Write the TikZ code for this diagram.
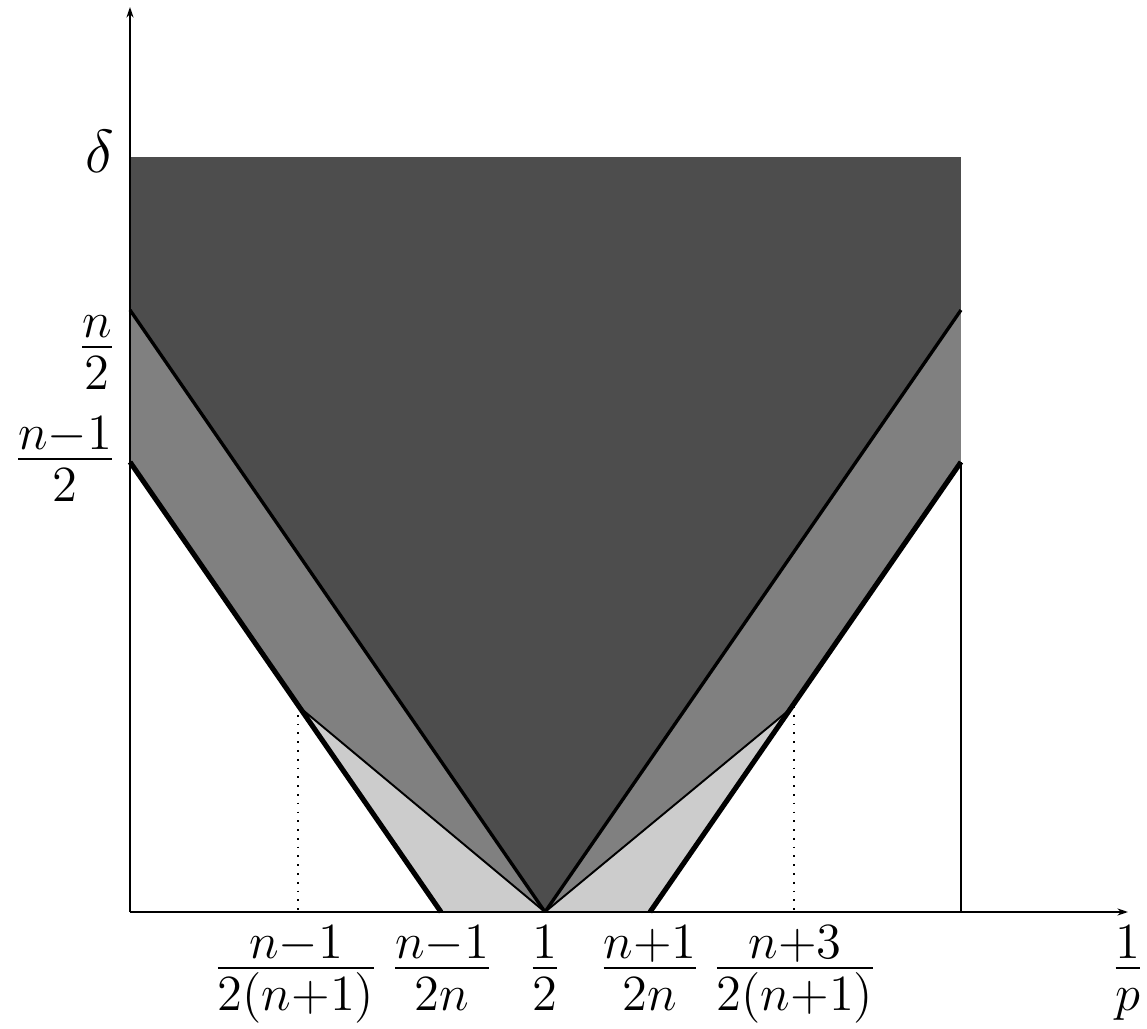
\documentclass[tikz,border=0pt]{standalone}
\usepackage{amsmath}
\usepackage{xcolor}
\usepackage{tikz}
\usetikzlibrary{arrows.meta}
\definecolor{regiondark}{RGB}{77,77,77}
\definecolor{regionmid}{RGB}{128,128,128}
\definecolor{regionlight}{RGB}{204,204,204}
% fraction with full-size parts and tight gaps
\newcommand{\numstrut}{\vrule height 0pt depth 0.12em width 0pt}
\newcommand{\denstrut}{\vrule height 0.75em depth 0pt width 0pt}
\newcommand{\lfrac}[2]{\frac{\textstyle #1\numstrut}{\textstyle\denstrut #2}}
\tikzset{
  axisline/.style={-{Stealth[length=3pt,width=2pt]},line width=0.4pt},
  edgeline/.style={line width=1.45pt},
  midline/.style={line width=0.95pt},
  innerline/.style={line width=0.55pt},
  guide/.style={dotted,line width=0.5pt},
  ticklabel/.style={font=\fontsize{15}{18}\selectfont,inner sep=0pt,anchor=mid},
  levellabel/.style={font=\fontsize{15}{18}\selectfont,inner sep=0pt,anchor=mid east}
}

\begin{document}
\begin{tikzpicture}[x=0.01cm,y=0.01cm]
  \useasboundingbox (-130,-117) rectangle (1017,912);
  % points of the plane
  \coordinate (O) at (0,0);
  \coordinate (ytop) at (0,905);
  \coordinate (xend) at (998,0);
  \coordinate (dl) at (0,755);
  \coordinate (dr) at (831,755);
  \coordinate (nl) at (0,602);
  \coordinate (nr) at (831,602);
  \coordinate (ml) at (0,450);
  \coordinate (mr) at (831,450);
  \coordinate (half) at (415,0);
  \coordinate (al) at (311,0);
  \coordinate (ar) at (520,0);
  \coordinate (pl) at (168,206);
  \coordinate (pr) at (664,206);
  \coordinate (fl) at (168,0);
  \coordinate (fr) at (664,0);
  \coordinate (br) at (831,0);
  % regions
  \fill[regiondark] (dl) -- (dr) -- (nr) -- (half) -- (nl) -- cycle;
  \fill[regionmid] (nl) -- (half) -- (pl) -- (ml) -- cycle;
  \fill[regionmid] (nr) -- (half) -- (pr) -- (mr) -- cycle;
  \fill[regionlight] (pl) -- (half) -- (al) -- cycle;
  \fill[regionlight] (pr) -- (half) -- (ar) -- cycle;
  % boundaries
  \draw[midline] (nl) -- (half);
  \draw[midline] (nr) -- (half);
  \draw[innerline] (pl) -- (half);
  \draw[innerline] (pr) -- (half);
  \draw[edgeline] (ml) -- (al);
  \draw[edgeline] (mr) -- (ar);
  \draw[guide] (pl) -- (fl);
  \draw[guide] (pr) -- (fr);
  \draw[line width=0.4pt] (mr) -- (br);
  % axes
  \draw[axisline] (O) -- (xend);
  \draw[axisline] (O) -- (ytop);
  % labels
  \node[levellabel,anchor=east,font=\fontsize{18}{21}\selectfont] (lbldelta) at (-15,761) {$\delta$};
  \node[levellabel] (lbln) at (-13,560) {$\lfrac{n}{2}$};
  \node[levellabel] (lblnm) at (-13,448) {$\lfrac{n{-}1}{2}$};
  \node[ticklabel] (tickpl) at (166,-61) {$\lfrac{n{-}1}{2(n{+}1)}$};
  \node[ticklabel] (tickal) at (312,-61) {$\lfrac{n{-}1}{2n}$};
  \node[ticklabel] (tickhalf) at (415,-61) {$\lfrac{1}{2}$};
  \node[ticklabel] (tickar) at (520,-61) {$\lfrac{n{+}1}{2n}$};
  \node[ticklabel] (tickpr) at (665,-61) {$\lfrac{n{+}3}{2(n{+}1)}$};
  \node[ticklabel] (tickp) at (998,-61) {$\lfrac{1}{p}$};
\end{tikzpicture}
\end{document}
